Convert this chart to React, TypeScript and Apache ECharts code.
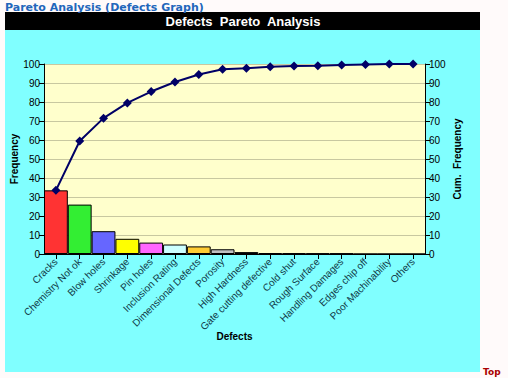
import React, { useEffect, useRef } from "react";
import * as echarts from "echarts";

const categories = [
  "Cracks", "Chemistry Not ok", "Blow holes", "Shrinkage", "Pin holes",
  "Inclusion Rating", "Dimensional Defects", "Porosity", "High Hardness",
  "Gate cutting defective", "Cold shut", "Rough Surface", "Handling Damages",
  "Edges chip off", "Poor Machinability", "Others",
];
const frequency = [33.5, 26, 12, 8, 6, 5, 4, 2.5, 1, 0.5, 0.4, 0.3, 0.3, 0, 0, 0];
const cumFrequency = [33.5, 59.5, 71.5, 79.5, 85.5, 90.5, 94.5, 97.2, 97.8, 98.6, 98.9, 99.1, 99.5, 99.8, 100, 100];
const barColors = [
  "#ff3333", "#33ee33", "#6666ff", "#ffff00", "#ff66ff", "#ccffff", "#ffcc33",
  "#c0c0c0", "#707070", "#606060", "#555555", "#444444", "#333333", "#333333", "#222222", "#111111",
];
const yTicks = { min: 0, max: 100, interval: 10 };

export default function App() {
  const ref = useRef<HTMLDivElement>(null);
  useEffect(() => {
    document.body.style.margin = "0";
    const chart = echarts.init(ref.current!, null, { renderer: "svg" });
    const font = "Arial, 'Liberation Sans', sans-serif";
    chart.setOption({
      animation: false,
      backgroundColor: "#fffafa",
      graphic: [
        { type: "rect", z: -10, shape: { x: 5, y: 30, width: 475, height: 342 }, style: { fill: "#80ffff" } },
        { type: "rect", z: -10, shape: { x: 5, y: 12, width: 475, height: 18 }, style: { fill: "#000000" } },
        { type: "text", x: 243, y: 21, style: { text: "Defects  Pareto  Analysis", fill: "#ffffff", font: `bold 13px ${font}`, align: "center", verticalAlign: "middle" } },
        { type: "text", x: 5, y: 7, style: { text: "Pareto Analysis (Defects Graph)", fill: "#2266bb", font: `bold 11px Verdana, 'DejaVu Sans', sans-serif`, verticalAlign: "middle" } },
        { type: "text", x: 483, y: 372, style: { text: "Top", fill: "#aa0000", font: `bold 9px Verdana, 'DejaVu Sans', sans-serif`, verticalAlign: "middle" } },
      ],
      grid: { left: 44, right: 83, top: 64, bottom: 124, show: true, backgroundColor: "#ffffcc", borderWidth: 0, outerBoundsMode: "none", containLabel: false },
      xAxis: {
        type: "category",
        data: categories,
        boundaryGap: true,
        name: "Defects",
        nameLocation: "middle",
        nameGap: 77,
        nameMoveOverlap: false,
        nameTextStyle: { fontFamily: font, fontWeight: "bold", fontSize: 10, color: "#000" },
        axisLine: { lineStyle: { color: "#000", width: 1 } },
        axisTick: { show: true, alignWithLabel: true, lineStyle: { color: "#000" } },
        axisLabel: { rotate: 45, interval: 0, fontFamily: font, fontSize: 10, color: "#103a48", margin: 6 },
      },
      yAxis: [
        {
          type: "value", ...yTicks,
          name: "Frequency", nameLocation: "middle", nameGap: 25, nameRotate: 90, nameMoveOverlap: false,
          nameTextStyle: { fontFamily: font, fontWeight: "bold", fontSize: 10, color: "#000" },
          axisLine: { show: true, lineStyle: { color: "#000" } },
          axisTick: { show: true, lineStyle: { color: "#000" } },
          axisLabel: { fontFamily: font, fontSize: 10, color: "#000", margin: 4 },
          splitLine: { lineStyle: { color: "#c8c8a0" } },
        },
        {
          type: "value", ...yTicks,
          name: "Cum.  Frequency", nameLocation: "middle", nameGap: 27, nameRotate: 90, nameMoveOverlap: false,
          nameTextStyle: { fontFamily: font, fontWeight: "bold", fontSize: 10, color: "#000" },
          axisLine: { show: true, lineStyle: { color: "#000" } },
          axisTick: { show: true, lineStyle: { color: "#000" } },
          axisLabel: { fontFamily: font, fontSize: 10, color: "#000", margin: 4 },
          splitLine: { show: false },
        },
      ],
      series: [
        {
          type: "bar",
          data: frequency.map((v, i) => ({ value: v, itemStyle: { color: barColors[i] } })),
          barCategoryGap: 0,
          itemStyle: { borderColor: "#000", borderWidth: 1 },
        },
        {
          type: "line",
          yAxisIndex: 1,
          data: cumFrequency,
          symbol: "diamond",
          symbolSize: 9,
          lineStyle: { color: "#000066", width: 2 },
          itemStyle: { color: "#000066" },
        },
      ],
    });
    return () => chart.dispose();
  }, []);
  return <div ref={ref} style={{ width: 508, height: 378 }} />;
}
